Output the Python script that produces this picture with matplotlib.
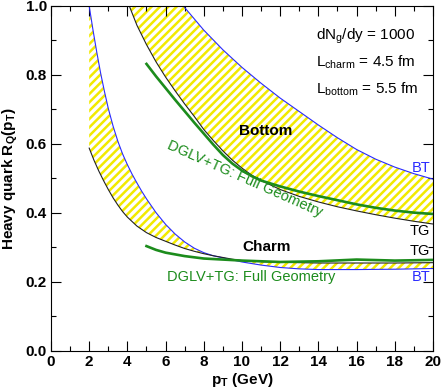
import numpy as np
import matplotlib
matplotlib.use("Agg")
import matplotlib.pyplot as plt
from matplotlib.ticker import MultipleLocator, FormatStrFormatter

plt.rcParams['font.family'] = ['Liberation Sans', 'DejaVu Sans']
plt.rcParams['mathtext.default'] = 'regular'
plt.rcParams['hatch.linewidth'] = 1.8

# charm, BT (blue) and TG (black)
c_bt_x = [2.0, 2.2, 2.4, 2.6, 2.8, 3.0, 3.25, 3.5, 3.75, 4.0, 4.25, 4.5, 4.75, 5.0, 5.5,
          6.0, 6.5, 7.0, 7.5, 8.0, 8.5, 9.0, 9.5, 10, 11, 12, 13, 14, 16, 18, 20]
c_bt_y = [1.0, 0.93, 0.865, 0.805, 0.752, 0.703, 0.652, 0.608, 0.571, 0.540, 0.512, 0.487,
          0.463, 0.441, 0.401, 0.367, 0.339, 0.316, 0.298, 0.285, 0.276, 0.270, 0.264,
          0.258, 0.249, 0.242, 0.238, 0.236, 0.236, 0.237, 0.239]
c_tg_x = [2.0, 2.25, 2.5, 2.75, 3.0, 3.25, 3.5, 3.75, 4.0, 4.5, 5.0, 5.5, 6.0, 6.5, 7.0,
          7.5, 8.0, 8.5, 9.0, 9.5, 10, 11, 12, 14, 16, 18, 20]
c_tg_y = [0.588, 0.553, 0.522, 0.494, 0.468, 0.444, 0.423, 0.404, 0.388, 0.362, 0.343,
          0.329, 0.318, 0.307, 0.297, 0.289, 0.282, 0.276, 0.271, 0.266, 0.262, 0.259,
          0.257, 0.255, 0.255, 0.255, 0.256]
# charm DGLV+TG full geometry
c_fg_x = [5.0, 5.5, 6, 7, 8, 10, 12, 14, 16, 18, 20]
c_fg_y = [0.304, 0.293, 0.285, 0.275, 0.268, 0.262, 0.258, 0.26, 0.265, 0.262, 0.264]

# bottom
b_bt_x = [6.93, 8, 9, 10, 11, 12, 13, 14, 15, 16, 17, 18, 19, 20]
b_bt_y = [1.0, 0.93, 0.873, 0.822, 0.776, 0.733, 0.694, 0.655, 0.618, 0.584, 0.556,
          0.533, 0.514, 0.498]
b_tg_x = [4.1, 4.5, 5.0, 5.5, 6.0, 6.5, 7.0, 7.5, 8.0, 8.5, 9.0, 9.5, 10, 10.5, 11, 12,
          13, 14, 15, 16, 17, 18, 19, 20]
b_tg_y = [1.0, 0.944, 0.888, 0.838, 0.794, 0.754, 0.716, 0.680, 0.642, 0.610, 0.580,
          0.553, 0.530, 0.510, 0.494, 0.468, 0.448, 0.432, 0.418, 0.406, 0.395, 0.385,
          0.376, 0.368]
b_fg_x = [5.0, 5.5, 6.0, 6.5, 7.0, 7.5, 8.0, 8.5, 9.0, 9.5, 10, 10.5, 11, 12, 13, 14,
          15, 16, 17, 18, 19, 20]
b_fg_y = [0.832, 0.796, 0.762, 0.728, 0.695, 0.662, 0.630, 0.598, 0.568, 0.543, 0.523,
          0.507, 0.494, 0.477, 0.462, 0.449, 0.437, 0.425, 0.415, 0.407, 0.401, 0.397]

blue = '#2a2aff'
green = '#1c8c1c'
yel = '#f2ea00'

fig = plt.figure(figsize=(4.43, 3.88), dpi=100)
ax = fig.add_axes([0.1151, 0.0954, 0.8623, 0.8892])

# hatched bands
ax.fill(c_bt_x + c_tg_x[::-1], c_bt_y + c_tg_y[::-1], facecolor='white',
        edgecolor=yel, hatch='////', linewidth=0, zorder=1)
ax.fill(b_tg_x + b_bt_x[::-1] + [b_tg_x[0]], b_tg_y + b_bt_y[::-1] + [b_tg_y[0]],
        facecolor='white', edgecolor=yel, hatch='////', linewidth=0, zorder=1)

ax.plot(c_bt_x, c_bt_y, color=blue, lw=0.8, zorder=2)
ax.plot(c_tg_x, c_tg_y, color='#222222', lw=0.8, zorder=2)
ax.plot(b_bt_x, b_bt_y, color=blue, lw=0.8, zorder=2)
ax.plot(b_tg_x, b_tg_y, color='#222222', lw=0.8, zorder=2)
ax.plot(c_fg_x, c_fg_y, color=green, lw=1.9, zorder=3)
ax.plot(b_fg_x, b_fg_y, color=green, lw=1.9, zorder=3)

ax.set_xlim(0, 20)
ax.set_ylim(0, 1.0)
ax.xaxis.set_major_locator(MultipleLocator(2))
ax.xaxis.set_minor_locator(MultipleLocator(1))
ax.yaxis.set_major_locator(MultipleLocator(0.2))
ax.yaxis.set_minor_locator(MultipleLocator(0.1))
ax.yaxis.set_major_formatter(FormatStrFormatter('%.1f'))
ax.tick_params(which='both', direction='in', top=True, right=True, width=0.8)
ax.tick_params(which='major', length=7, labelsize=11, pad=3)
ax.tick_params(which='minor', length=3.5)
for lab in ax.get_xticklabels() + ax.get_yticklabels():
    lab.set_fontweight('bold')

ax.set_xlabel('p$_T$ (GeV)', fontsize=11, fontweight='bold', labelpad=1)
ax.set_ylabel('Heavy quark R$_Q$(p$_T$)', fontsize=11, fontweight='bold', labelpad=4)

ax.text(13.9, 0.903, 'dN$_g$/dy = 1000', fontsize=11, va='baseline')
ax.text(13.9, 0.824, 'L$_{charm}$ = 4.5 fm', fontsize=11, va='baseline')
ax.text(13.9, 0.747, 'L$_{bottom}$ = 5.5 fm', fontsize=11, va='baseline')

ax.text(11.24, 0.638, 'Bottom', fontsize=11, fontweight='bold', ha='center', va='center')
ax.text(11.3, 0.30, 'Charm', fontsize=11, fontweight='bold', ha='center', va='center')
ax.text(10.17, 0.499, 'DGLV+TG: Full Geometry', fontsize=10.5, color=green,
        rotation=-24, rotation_mode='anchor', ha='center', va='center')
ax.text(10.5, 0.214, 'DGLV+TG: Full Geometry', fontsize=10.5, color=green,
        ha='center', va='center')

ax.text(19.85, 0.53, 'BT', fontsize=10.5, color=blue, ha='right', va='center')
ax.text(19.85, 0.348, 'TG', fontsize=10.5, color='black', ha='right', va='center')
ax.text(19.85, 0.29, 'TG', fontsize=10.5, color='black', ha='right', va='center')
ax.text(19.85, 0.214, 'BT', fontsize=10.5, color=blue, ha='right', va='center')

fig.savefig('out.png', dpi=100)
